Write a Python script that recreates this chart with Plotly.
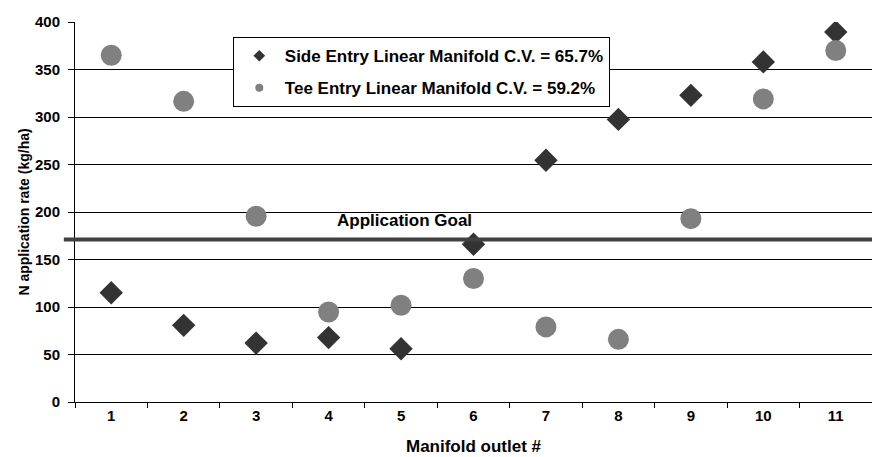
import plotly.graph_objects as go

outlets = [1, 2, 3, 4, 5, 6, 7, 8, 9, 10, 11]
side_entry = [115, 80.7, 62, 67.8, 56, 166, 254.4, 297.5, 322.8, 358, 389.5]
tee_entry = [365, 316.5, 195.5, 94.7, 101.8, 130, 79, 66, 193, 319, 370]
goal = 171
side_name = "Side Entry Linear Manifold C.V. = 65.7%"
tee_name = "Tee Entry Linear Manifold C.V. = 59.2%"
y_ticks = [0, 50, 100, 150, 200, 250, 300, 350, 400]

FONT = "Liberation Sans, Arial, sans-serif"
x_cat = [str(v) for v in outlets]

fig = go.Figure()
fig.add_trace(go.Scatter(
    x=x_cat, y=side_entry, mode="markers", showlegend=False,
    marker=dict(symbol="diamond", size=18, color="#333333", line=dict(width=0)),
))
fig.add_trace(go.Scatter(
    x=x_cat, y=tee_entry, mode="markers", showlegend=False,
    marker=dict(symbol="circle", size=21, color="#808080", line=dict(width=0)),
))
# legend-only entries
fig.add_trace(go.Scatter(
    x=[None], y=[None], mode="markers", name=side_name, legendgroup="a",
    marker=dict(symbol="diamond", size=9, color="#333333", line=dict(width=0)),
))
fig.add_trace(go.Scatter(
    x=[None], y=[None], mode="markers", name=tee_name, legendgroup="b",
    marker=dict(symbol="circle", size=8, color="#808080", line=dict(width=0)),
))

fig.add_shape(type="line", xref="paper", yref="y", x0=-0.014, x1=1, y0=goal, y1=goal,
              line=dict(color="#404040", width=4), layer="above")
fig.add_annotation(x=0.326, xref="paper", y=goal, yref="y", yshift=8, yanchor="bottom",
                   text="Application Goal", showarrow=False, xanchor="left",
                   font=dict(family=FONT, size=17, color="black", weight="bold"))

fig.update_layout(
    width=872, height=457,
    margin=dict(l=75, r=0, t=22, b=55),
    paper_bgcolor="white", plot_bgcolor="white",
    font=dict(family=FONT, color="black", weight="bold"),
    legend=dict(
        x=0.198, y=0.96, xanchor="left", yanchor="top",
        bgcolor="white", bordercolor="black", borderwidth=1,
        font=dict(family=FONT, size=17, color="black", weight="bold"),
        tracegroupgap=7, itemwidth=41,
    ),
    xaxis=dict(
        type="category", range=[-0.5, len(outlets) - 0.5],
        tickson="boundaries", ticks="outside", ticklen=5,
        tickcolor="black", showline=True, linecolor="black", linewidth=1,
        showgrid=False, tickfont=dict(family=FONT, size=15, weight="bold"),
        automargin=False,
        title=dict(text="Manifold outlet #", font=dict(family=FONT, size=17, weight="bold"), standoff=17),
    ),
    yaxis=dict(
        range=[0, 400], tickvals=y_ticks, ticks="outside", ticklen=6, tickcolor="black",
        showline=True, linecolor="black", linewidth=1,
        showgrid=True, gridcolor="black", gridwidth=1, zeroline=False,
        tickfont=dict(family=FONT, size=15, weight="bold"), ticklabelstandoff=5,
        automargin=False,
        title=dict(text="N application rate (kg/ha)", font=dict(family=FONT, size=14, weight="bold"), standoff=2),
    ),
)

fig.write_html("out.html", config={"displayModeBar": False},
               post_script="document.body.style.margin='0';document.body.style.overflow='hidden';")
